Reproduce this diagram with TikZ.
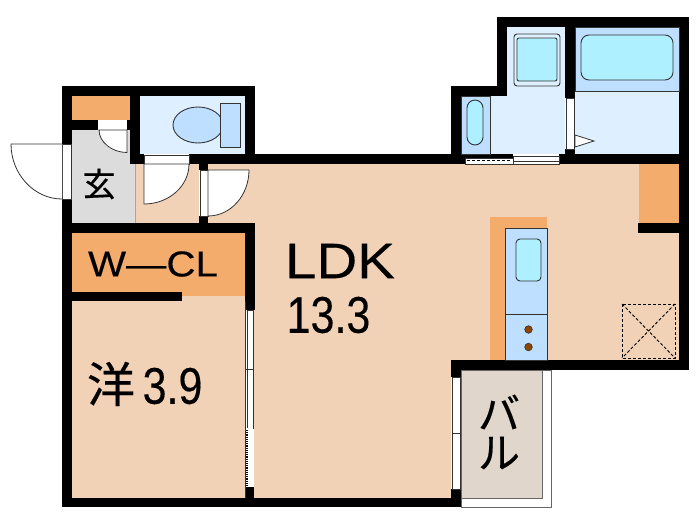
\documentclass[tikz,border=0pt]{standalone}
\usepackage{fontspec}
\setmainfont{Liberation Sans}
\newfontfamily\jpfont[FakeBold=0.5]{Noto Sans CJK JP}
\newfontfamily\latinfont[FakeBold=0.25]{Liberation Sans}
\definecolor{peach}{HTML}{F2D2B6}
\definecolor{closet}{HTML}{F3AC6C}
\definecolor{wet}{HTML}{DEF0FF}
\definecolor{fixture}{HTML}{BEDFFF}
\definecolor{basin}{HTML}{AEF0FF}
\definecolor{entry}{HTML}{DCDCDC}
\definecolor{deck}{HTML}{E0D6CC}
\definecolor{burner}{HTML}{8B4500}
\definecolor{edge}{HTML}{333333}
\begin{document}
\begin{tikzpicture}[
			x=1pt, y=-1pt,
			wall/.style  = {fill=black},
			unit/.style  = {draw=edge, line width=0.9pt},
			glass/.style = {draw=edge, fill=white, line width=0.6pt},
			leaf/.style  = {draw=edge, fill=white, line width=0.8pt},
			label/.style = {inner sep=0pt, text=black},
			vent/.style  = {draw=black, densely dashed, line width=0.9pt}]
			
			\useasboundingbox (0,0) rectangle (700,525);
			
			% floors
			\fill[peach] (208,164) -| (679,360) -- (451,360) |- (254,498) |- (208,233) -- cycle;
			\fill[peach] (135,164) rectangle (199,223);
			\fill[peach] (72,292) rectangle (245,498);
			\fill[entry] (72,130) rectangle (135,223);
			\draw[draw=gray!70, line width=0.5pt] (135,164) -- (135,223);
			\fill[closet] (72,96) rectangle (130,120);
			\fill[closet] (72,233) rectangle (245,296);
			\fill[closet] (639,164) rectangle (679,223);
			\fill[closet] (490,217) rectangle (547,360);
			\fill[wet] (140,96) rectangle (245,154);
			\fill[wet] (507,27) rectangle (565,96);
			\fill[wet] (461,96) rectangle (565,154);
			\fill[wet] (575,27) rectangle (679,154);
			
			% balcony
			\draw[draw=gray!80!black, fill=white, line width=0.7pt] (461,370) rectangle (551.5,507);
			\draw[draw=gray!80!black, fill=deck, line width=0.7pt] (461,370) rectangle (542,498);
			
			% walls
			\foreach \xa/\ya/\xb/\yb in {
				62/86/255/96, 62/86/72/144, 62/199/72/507, 245/86/255/164,
				130/96/140/164, 72/120/98/130, 127/120/130/130, 130/154/144/164,
				189/154/465/164, 62/223/255/233, 245/223/255/310, 72/292/182/301,
				199/164/208/170, 199/216/208/223, 245/487/254/498, 62/498/461/507,
				497/17/689/27, 497/17/507/96, 451/86/507/96, 451/86/461/164,
				565/27/575/98, 565/149/575/164, 559/154/689/164, 679/17/689/370,
				638/223/679/233, 451/360/689/370, 451/360/461/377, 451/489/461/507,
				465/154/513/158}
				\fill[wall] (\xa,\ya) rectangle (\xb,\yb);
			
			% toilet
			\draw[unit, fill=fixture] (198,125) ellipse [x radius=25, y radius=18];
			\draw[unit, fill=fixture] (220,103) rectangle (240,147);
			
			% wash room
			\draw[unit, fill=fixture] (461,96) rectangle (490,154);
			\draw[unit, fill=basin, rounded corners=8pt] (467,100) rectangle (483,145);
			\draw[unit, fill=wet, rounded corners=3pt] (514,34) rectangle (560,86);
			\draw[unit, fill=basin, rounded corners=2pt] (517,38) rectangle (557,81);
			
			% bath
			\draw[unit, fill=fixture] (575,27) rectangle (679,91);
			\draw[unit, fill=basin, rounded corners=8pt] (581,35) rectangle (673,80);
			\draw[glass] (566,98) rectangle (574,149);
			\draw[leaf] (575,135) -- (594,141) -- (575,147) -- cycle;
			
			% kitchen
			\draw[unit, fill=fixture] (505.5,228) rectangle (547,360);
			\draw[unit] (505.5,314) -- (547,314);
			\draw[unit, fill=basin, rounded corners=4pt] (516,239) rectangle (541,281);
			\foreach \y in {329.5,347}
			\draw[draw=edge, fill=burner, line width=0.6pt] (528.5,\y) circle (3.8);
			
			% vent
			\draw[vent] (622,304) rectangle (675,358);
			\draw[vent] (622,304) -- (675,358);
			\draw[vent] (675,304) -- (622,358);
			
			% doors
			\draw[glass] (62,144) rectangle (71,199);
			\draw[leaf] (62,144) -- (11,144) .. controls (11,174) and (34,199) .. (62,199);
			\fill[white] (98,121) rectangle (127,130);
			\draw[leaf] (127,130) -- (127,152.5) .. controls (112,152.5) and (99,142) .. (99,130) -- cycle;
			\draw[glass] (144,155) rectangle (189,164);
			\draw[leaf] (144,164) -- (144,204) .. controls (169,204) and (189,186) .. (189,164) -- cycle;
			\draw[glass] (200,170) rectangle (208,216);
			\draw[leaf] (208,170) -- (249,170) .. controls (249,195) and (231,216) .. (208,216) -- cycle;
			
			% sliding doors
			\draw[glass] (465,158) rectangle (513,164);
			\draw[glass] (513,156) rectangle (559,164);
			\draw[black, densely dashed, line width=1.2pt] (467,160.5) -- (510,160.5);
			\draw[edge, line width=0.6pt] (513,161) -- (559,161);
			\draw[draw=edge, fill=white, line width=0.5pt] (247,310) rectangle (253,428);
			\fill[white] (247,428) rectangle (253,487);
			\draw[black, densely dotted, line width=1.2pt] (247,430) -- (247,487);
			\draw[edge, line width=0.5pt] (245,301) -- (245,498);
			\draw[edge, line width=0.5pt] (245,369) -- (254,369);
			\draw[glass] (452,377) rectangle (460,489);
			\draw[edge, line width=0.5pt] (452,433) -- (460,433);
			
			% labels
			\node[label, font=\jpfont\fontsize{33}{33}\selectfont] (genkan) at (99,184) {玄};
			\node[label, xscale=1.12, font=\latinfont\fontsize{36}{36}\selectfont] (wcl) at (153,264) {W—CL};
			\node[label, xscale=1.13, font=\latinfont\fontsize{50}{50}\selectfont] (ldk) at (340,261) {LDK};
			\node[label, yscale=1.2, font=\latinfont\fontsize{43}{43}\selectfont] (area1) at (328.5,315) {13.3};
			\node[label, font=\jpfont\fontsize{48}{48}\selectfont] (yo) at (111,384) {洋};
			\node[label, yscale=1.2, font=\latinfont\fontsize{43}{43}\selectfont] (area2) at (172.5,386) {3.9};
			\node[label, font=\jpfont\fontsize{42}{42}\selectfont] (bar1) at (499,412) {バ};
			\node[label, font=\jpfont\fontsize{42}{42}\selectfont] (bar2) at (499,453) {ル};
		\end{tikzpicture}
\end{document}
